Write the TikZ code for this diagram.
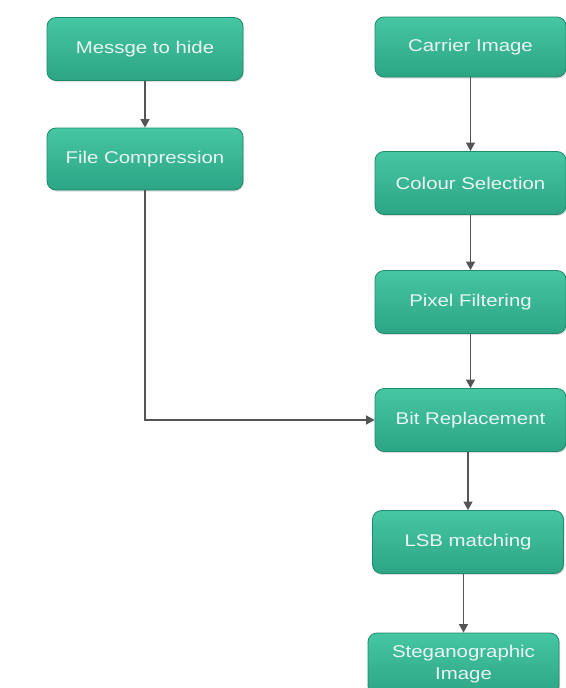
\documentclass[tikz,border=0pt]{standalone}
\usepackage{fontspec}
\setmainfont[FakeStretch=1.2]{Liberation Sans}
\usetikzlibrary{arrows.meta,shadows}
\definecolor{tealtop}{HTML}{46C6A2}
\definecolor{tealbot}{HTML}{2CA585}
\definecolor{tealedge}{HTML}{1F8B6D}
\definecolor{boxtext}{HTML}{EAF7F2}
\definecolor{linegrey}{HTML}{555555}
\tikzset{
  stepbox/.style={draw=tealedge, line width=0.8pt, rounded corners=9pt,
    top color=tealtop, bottom color=tealbot, text=boxtext, align=center,
    minimum width=191pt, minimum height=63pt, inner sep=2pt,
    font=\fontsize{17}{22}\selectfont,
    drop shadow={opacity=0.25, shadow xshift=1pt, shadow yshift=-1.5pt}},
  flow/.style={draw=linegrey, line width=1.2pt, -{Triangle[length=8.5pt,width=9pt]}}
}
\begin{document}
\begin{tikzpicture}[x=1pt,y=-1pt]
  \useasboundingbox[fill=white] (0,0) rectangle (565,688);
  % left column
  \node[stepbox, minimum width=196pt] (msg) at (145,49) {Messge to hide};
  \node[stepbox, minimum width=196pt, minimum height=62pt] (comp) at (145,159) {File Compression};
  % right column
  \node[stepbox, minimum height=60pt] (carrier) at (470.5,47) {Carrier Image};
  \node[stepbox] (colour) at (470.5,183) {Colour Selection};
  \node[stepbox] (pixel) at (470.5,302) {Pixel Filtering};
  \node[stepbox] (bit) at (470.5,420) {Bit Replacement};
  \node[stepbox] (lsb) at (468,542) {LSB matching};
  \node[stepbox, minimum height=62pt] (stego) at (463.5,664) {Steganographic\\Image};
  % connectors
  \draw[flow] (msg) -- (comp);
  \draw[flow] (carrier) -- (colour);
  \draw[flow] (colour) -- (pixel);
  \draw[flow] (pixel) -- (bit);
  \draw[flow] (comp.south) |- (bit.west);
  \draw[flow] (bit.south -| lsb.north) -- (lsb.north);
  \draw[flow] (lsb.south -| stego.north) -- (stego.north);
\end{tikzpicture}
\end{document}
